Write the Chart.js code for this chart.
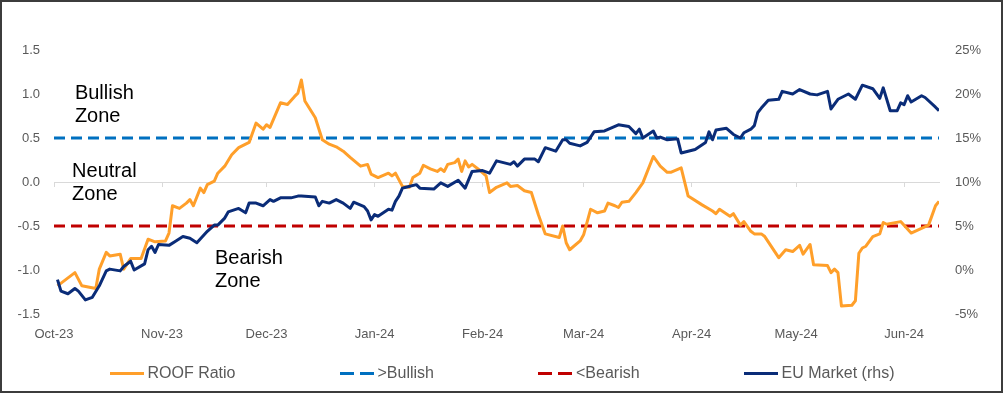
<!DOCTYPE html>
<html>
<head>
<meta charset="utf-8">
<script src="https://cdn.jsdelivr.net/npm/chart.js@4.4.1/dist/chart.umd.min.js"></script>
<style>
  html, body { margin: 0; padding: 0; background: #fff; }
  #wrap { position: relative; width: 1004px; height: 394px; overflow: hidden; }
  #chart { position: absolute; left: 0; top: 0; }
  #frame { position: absolute; left: 0; top: 0; width: 1003px; height: 393px; box-sizing: border-box; border: 2px solid #3c3c3c; pointer-events: none; }
  #legend { position: absolute; left: 0; top: 364px; width: 1004px; display: flex; justify-content: center; column-gap: 104px; font: 16px "Liberation Sans", Arial, sans-serif; color: #595959; line-height: 18px; }
  .item { display: flex; align-items: center; }
  .swatch { width: 34px; height: 3px; margin-right: 4px; }
</style>
</head>
<body>
<div id="wrap">
  <canvas id="chart" width="1004" height="394"></canvas>
  <div id="legend"></div>
  <div id="frame"></div>
</div>
<script>
// x values are days since 1 Oct 2023
const monthTickDays = [0, 31, 61, 92, 123, 152, 183, 213, 244];
const monthLabels = ["Oct-23", "Nov-23", "Dec-23", "Jan-24", "Feb-24", "Mar-24", "Apr-24", "May-24", "Jun-24"];
const lastDay = 254;

const leftTicks = [-1.5, -1.0, -0.5, 0.0, 0.5, 1.0, 1.5];
const rightTicks = [-5, 0, 5, 10, 15, 20, 25];

const bullishLevel = 0.5;
const bearishLevel = -0.5;

const roofDays = [1,6,8,12,13,15,16,19,20,22,25,27,29,32,33,34,36,38,39,40,42,43,44,46,47,49,51,53,56,58,60,61,62,65,67,69,70,71,72,75,77,79,81,83,85,88,90,91,93,96,97,98,100,102,103,105,106,108,110,111,112,113,115,116,117,118,119,120,122,124,125,127,130,131,133,135,137,139,141,145,146,147,148,151,152,154,156,158,159,161,162,163,165,167,169,172,174,176,177,180,182,186,189,190,191,194,195,197,198,200,201,203,204,208,210,212,214,215,217,218,222,223,224,225,226,229,230,231,232,233,235,237,238,239,243,246,251,253,254];
const roofValues = [-1.18,-1.03,-1.18,-1.21,-0.99,-0.80,-0.84,-0.82,-0.99,-0.87,
  -0.87,-0.65,-0.68,-0.67,-0.58,-0.27,-0.30,-0.24,-0.20,-0.27,
  -0.07,-0.12,-0.03,0.01,0.10,0.18,0.31,0.39,0.45,0.67,
  0.60,0.65,0.62,0.90,0.88,0.97,1.01,1.16,0.92,0.73,
  0.48,0.43,0.40,0.35,0.28,0.18,0.20,0.09,0.05,0.10,
  0.07,0.10,-0.05,-0.06,0.05,0.10,0.19,0.15,0.12,0.15,
  0.12,0.20,0.22,0.26,0.12,0.24,0.17,0.20,0.14,0.07,
  -0.12,-0.06,-0.01,-0.05,-0.04,-0.10,-0.12,-0.37,-0.59,-0.63,
  -0.50,-0.69,-0.77,-0.67,-0.60,-0.31,-0.35,-0.33,-0.24,-0.27,
  -0.29,-0.23,-0.22,-0.12,-0.01,0.29,0.18,0.11,0.11,0.16,
  -0.16,-0.26,-0.33,-0.36,-0.31,-0.39,-0.36,-0.49,-0.45,-0.56,
  -0.59,-0.59,-0.62,-0.86,-0.77,-0.79,-0.72,-0.82,-0.71,-0.94,
  -0.95,-1.03,-0.99,-1.03,-1.41,-1.40,-1.35,-0.81,-0.75,-0.73,
  -0.62,-0.59,-0.46,-0.48,-0.45,-0.58,-0.49,-0.27,-0.22];

const marketDays = [1,2,4,6,7,9,11,13,15,16,19,20,22,23,26,27,28,29,30,33,35,37,39,41,44,46,47,49,50,53,55,56,58,60,62,63,65,68,70,71,75,76,77,79,81,83,85,86,89,90,91,92,93,96,97,98,99,100,101,104,105,109,111,113,116,118,120,123,125,127,131,132,133,135,138,139,141,144,146,147,148,151,153,155,158,162,165,167,168,169,172,173,174,176,179,180,182,184,187,188,189,190,193,195,197,198,200,201,202,203,205,208,209,212,214,217,219,222,223,225,228,230,232,235,237,238,240,242,243,244,245,246,249,250,253,254];
const marketValues = [-1.1,-2.4,-2.7,-2.1,-2.4,-3.4,-3.1,-1.8,-0.1,0.1,
  -0.1,0.4,1.0,0.0,0.7,2.3,2.7,2.0,2.9,2.8,
  3.3,3.8,3.6,3.1,4.4,5.1,5.1,5.9,6.6,7.0,
  6.5,7.6,7.6,7.3,8.0,7.8,8.2,8.2,8.4,8.4,
  8.3,7.3,7.8,7.6,8.0,7.6,7.0,7.7,7.2,6.7,
  5.7,6.3,6.1,6.9,6.8,7.8,8.4,9.3,9.4,9.7,
  9.3,9.2,9.9,9.5,10.2,9.3,11.2,11.3,11.0,12.4,
  12.0,12.3,11.8,12.6,12.6,12.3,13.9,13.5,14.8,14.8,
  14.4,14.1,14.5,15.7,15.8,16.5,16.3,15.5,16.0,15.0,
  15.8,15.0,15.1,14.8,14.9,13.3,13.5,13.7,14.5,15.7,
  14.8,15.9,16.1,15.4,15.0,15.6,16.0,16.4,17.9,18.4,
  19.3,19.4,20.3,20.0,20.5,20.0,19.9,20.3,18.3,19.4,
  20.0,19.4,21.0,20.6,19.5,20.7,18.1,18.1,19.0,18.8,
  19.8,19.1,19.8,19.6,18.5,18.1];

const FONT = '"Liberation Sans", Arial, sans-serif';
const TICK_GREY = "#595959";

function toPoints(days, values) {
  return days.map((d, i) => ({ x: d, y: values[i] }));
}

// zone captions, anchored in data coordinates
const zoneNotes = [
  { lines: ["Bullish", "Zone"], day: 6, value: 0.94 },
  { lines: ["Neutral", "Zone"], day: 5.2, value: 0.06 },
  { lines: ["Bearish", "Zone"], day: 46.2, value: -0.93 }
];

const zonePlugin = {
  id: "zones",
  afterDatasetsDraw(chart) {
    const { ctx, scales: { x, y } } = chart;
    ctx.save();
    ctx.font = "20px " + FONT;
    ctx.fillStyle = "#000";
    ctx.textBaseline = "alphabetic";
    zoneNotes.forEach(n => {
      const px = x.getPixelForValue(n.day);
      const py = y.getPixelForValue(n.value);
      n.lines.forEach((t, i) => ctx.fillText(t, px, py + i * 23));
    });
    ctx.restore();
  }
};

const ctx = document.getElementById("chart").getContext("2d");

const chart = new Chart(ctx, {
  type: "line",
  data: {
    datasets: [
      {
        label: "ROOF Ratio",
        data: toPoints(roofDays, roofValues),
        yAxisID: "y",
        borderColor: "#FF9F2A",
        borderWidth: 3,
        order: 1
      },
      {
        label: ">Bullish",
        data: toPoints([0, lastDay], [bullishLevel, bullishLevel]),
        yAxisID: "y",
        borderColor: "#0070C0",
        borderWidth: 3,
        borderDash: [11, 6],
        order: 3
      },
      {
        label: "<Bearish",
        data: toPoints([0, lastDay], [bearishLevel, bearishLevel]),
        yAxisID: "y",
        borderColor: "#C00000",
        borderWidth: 3,
        borderDash: [11, 6],
        order: 2
      },
      {
        label: "EU Market (rhs)",
        data: toPoints(marketDays, marketValues),
        yAxisID: "y2",
        borderColor: "#0A2C78",
        borderWidth: 3,
        order: 0
      }
    ]
  },
  options: {
    responsive: false,
    animation: false,
    events: [],
    elements: {
      point: { radius: 0 },
      line: { tension: 0, borderCapStyle: "butt", borderJoinStyle: "round" }
    },
    layout: { padding: { top: 50, left: 4, right: 0, bottom: 0 } },
    plugins: {
      legend: { display: false },
      tooltip: { enabled: false }
    },
    scales: {
      x: {
        type: "linear",
        position: "bottom",
        min: 0,
        max: lastDay,
        afterBuildTicks: axis => { axis.ticks = monthTickDays.map(v => ({ value: v })); },
        afterFit: scale => { scale.height = 80; },
        grid: { display: false, drawTicks: false },
        border: { display: false },
        ticks: {
          autoSkip: false,
          maxRotation: 0,
          padding: 13,
          color: TICK_GREY,
          font: { family: FONT, size: 13 },
          callback: (value, index) => monthLabels[index]
        }
      },
      // zero line with month tick marks, like the Excel axis crossing at 0
      x2: {
        type: "linear",
        position: { y: 0 },
        min: 0,
        max: lastDay,
        afterBuildTicks: axis => { axis.ticks = monthTickDays.map(v => ({ value: v })); },
        grid: { drawOnChartArea: false, tickLength: 4, color: "#D9D9D9" },
        border: { color: "#D9D9D9", width: 1 },
        ticks: { display: false }
      },
      y: {
        position: "left",
        min: -1.5,
        max: 1.5,
        afterBuildTicks: axis => { axis.ticks = leftTicks.map(v => ({ value: v })); },
        afterFit: scale => { scale.width = 50; },
        grid: { display: false, drawTicks: false },
        border: { display: false },
        ticks: {
          padding: 14,
          color: TICK_GREY,
          font: { family: FONT, size: 13 },
          callback: v => v.toFixed(1)
        }
      },
      y2: {
        position: "right",
        min: -5,
        max: 25,
        afterBuildTicks: axis => { axis.ticks = rightTicks.map(v => ({ value: v })); },
        afterFit: scale => { scale.width = 65; },
        grid: { display: false, drawTicks: false },
        border: { display: false },
        ticks: {
          padding: 16,
          color: TICK_GREY,
          font: { family: FONT, size: 13 },
          callback: v => v + "%"
        }
      }
    }
  },
  plugins: [zonePlugin]
});

// html legend in the same order as the datasets
const legendEl = document.getElementById("legend");
chart.data.datasets.forEach(ds => {
  const item = document.createElement("div");
  item.className = "item";
  const sw = document.createElement("span");
  sw.className = "swatch";
  sw.style.background = ds.borderDash
    ? `repeating-linear-gradient(to right, ${ds.borderColor} 0 14px, transparent 14px 20px)`
    : ds.borderColor;
  const txt = document.createElement("span");
  txt.textContent = ds.label;
  item.appendChild(sw);
  item.appendChild(txt);
  legendEl.appendChild(item);
});
</script>
</body>
</html>
